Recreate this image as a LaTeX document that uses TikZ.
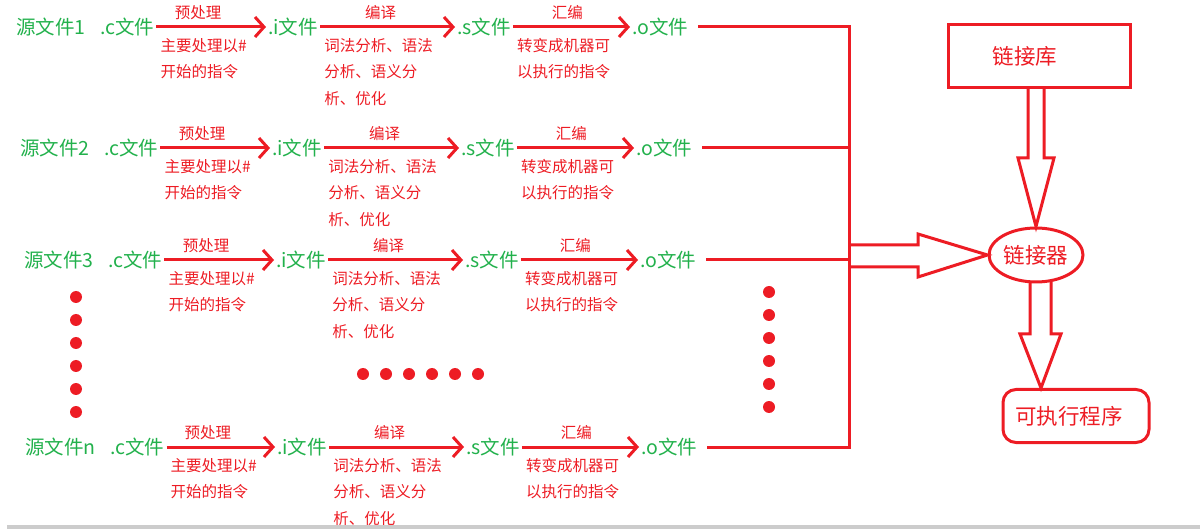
\documentclass[tikz,border=0pt]{standalone}
\usepackage{fontspec}
\setmainfont{Noto Sans CJK SC}
\usepackage{xcolor}
\usepackage{tikz}
\usetikzlibrary{arrows.meta,positioning,calc,shapes.geometric}
\definecolor{pred}{RGB}{237,28,36}
\definecolor{pgreen}{RGB}{34,177,76}

\begin{document}
\begin{tikzpicture}[x=1pt,y=-1pt,
  fname/.style={text=pgreen,font=\fontsize{19.5}{21}\selectfont,inner sep=2pt,anchor=west,
    execute at begin node={\spaceskip=0.75em\relax}},
  flow/.style={-{Straight Barb[length=9pt,width=20pt]},line width=3pt,pred},
  stage/.style={text=pred,font=\fontsize{15.5}{18}\selectfont,inner sep=0pt},
  note/.style={text=pred,font=\fontsize{15.5}{26.5}\selectfont,inner sep=0pt,align=left,anchor=north west},
  wire/.style={line width=3pt,pred},
  fat/.style={line width=3pt,pred,line join=miter},
  tool/.style={draw=pred,line width=3pt,text=pred,font=\fontsize{21.5}{23}\selectfont},
  toolname/.style={text=pred,font=\fontsize{21.5}{23}\selectfont}]
  \useasboundingbox (0,0) rectangle (1200,529);
  \coordinate (bus) at (849,0);
  % one row per source file
  \foreach \rw/\y/\dx in {1/27/0,2/148/4,3/260/8,n/447/9}{
    \node[fname] (src\rw) at (14+\dx,\y) {源文件\rw\ .c文件};
    \node[fname] (i\rw) at (266+\dx,\y) {.i文件};
    \node[fname] (s\rw) at (455+\dx,\y) {.s文件};
    \node[fname] (o\rw) at (630+\dx,\y) {.o文件};
    \draw[flow] (src\rw) -- node[stage,above=6pt,xshift=-13pt]{预处理} (i\rw);
    \draw[flow] (i\rw) -- node[stage,above=6pt,xshift=-7pt]{编译} (s\rw);
    \draw[flow] (s\rw) -- node[stage,above=6pt,xshift=-4pt]{汇编} (o\rw);
    \node[note] (pnote\rw) at ($(src\rw.east)+(4,11)$) {主要处理以\#\\开始的指令};
    \node[note] (cnote\rw) at ($(i\rw.east)+(4,11)$) {词法分析、语法\\分析、语义分\\析、优化};
    \node[note] (anote\rw) at ($(s\rw.east)+(4,11)$) {转变成机器可\\以执行的指令};
    \draw[wire,shorten <=8pt] (o\rw) -- (o\rw -| bus);
  }
  \draw[wire,line cap=rect] (o1 -| bus) -- (on -| bus);
  % ellipsis dots
  \foreach \yy in {297,320,...,412} \fill[pred] (76,\yy) circle (6pt);
  \foreach \xx in {363,386,...,478} \fill[pred] (\xx,374) circle (6pt);
  \foreach \yy in {292,315,...,407} \fill[pred] (769,\yy) circle (6pt);
  % linking
  \node[tool,minimum width=182pt,minimum height=63pt,
    label={[toolname,xshift=-14pt]center:链接库}] (lib) at (1039,56) {};
  \node[tool,ellipse,minimum width=94pt,minimum height=54pt,inner sep=0pt] (linker) at (1036,255) {链接器};
  \node[tool,rounded corners=13pt,minimum width=146pt,minimum height=53pt,
    label={[toolname,xshift=-7pt]center:可执行程序}] (exe) at (1076,416) {};
  \coordinate (tipx) at (1041,0);
  \draw[fat] (849,245) -- (918,245) -- (918,234) -- (linker.west) -- (918,277) -- (918,267) -- (849,267);
  \draw[fat] (1028,87) -- (1028,158) -- (1018,158) -- (linker.north) -- (1054,158) -- (1044,158) -- (1044,87);
  \draw[fat] (1030,282) -- (1030,334) -- (1020,334) -- (exe.north -| tipx) -- (1061,334) -- (1051,334) -- (1051,282);
  \fill[black!20] (7,525) rectangle (1200,529);
\end{tikzpicture}
\end{document}
